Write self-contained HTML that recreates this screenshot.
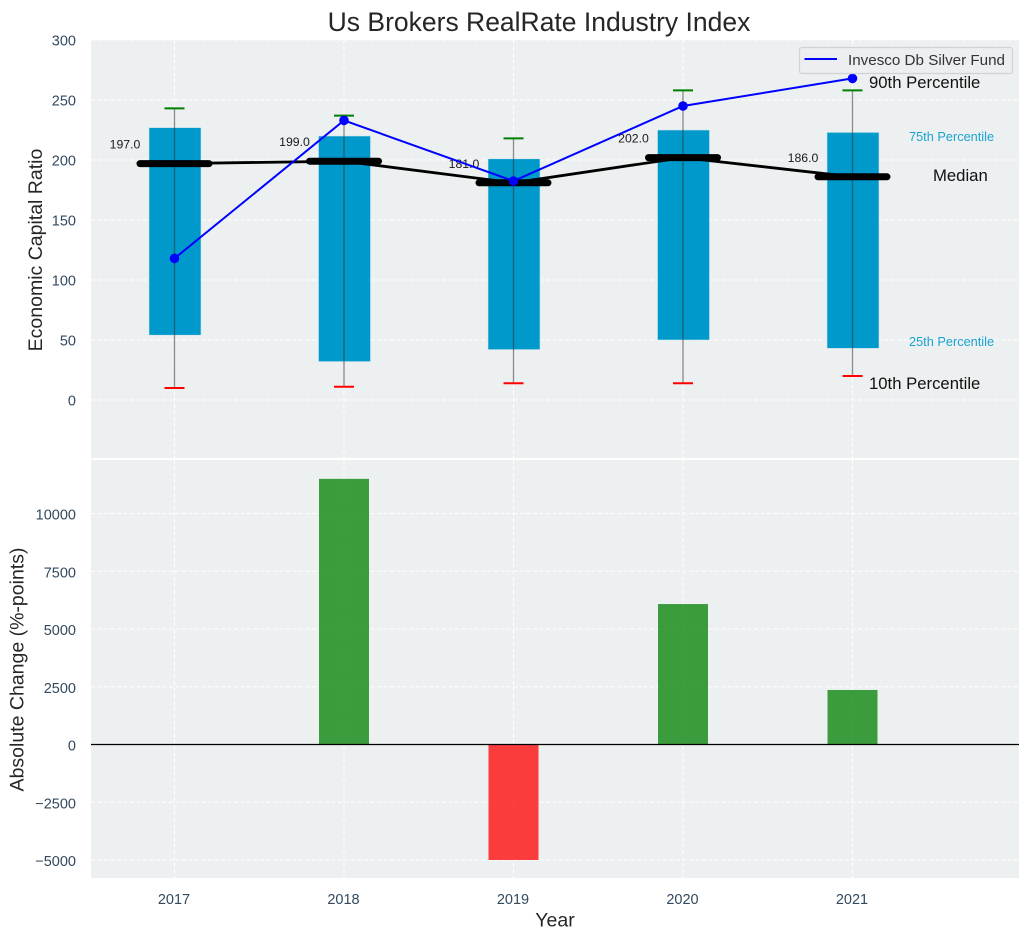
<!DOCTYPE html>
<html lang="en">
<head>
<meta charset="utf-8">
<title>Us Brokers RealRate Industry Index</title>
<style>
html,body{margin:0;padding:0;background:#fff;width:1029px;height:940px;overflow:hidden}
svg{display:block;font-family:"Liberation Sans",sans-serif}
</style>
</head>
<body>
<svg id="chart" xmlns="http://www.w3.org/2000/svg" width="1029" height="940" viewBox="0 0 1029 940"></svg>
<script>
const years = [2017, 2018, 2019, 2020, 2021];
const p10 = [10, 11, 14, 14, 20];
const p25 = [54, 32, 42, 50, 43];
const medians = [197, 199, 181, 202, 186];
const p75 = [227, 220, 201, 225, 223];
const p90 = [243, 237, 218, 258, 258];
const fundValues = [118, 233, 182.5, 245, 268];
const absChange = [0, 11500, -5000, 6080, 2360];
const upperTicks = [0, 50, 100, 150, 200, 250, 300];
const lowerTicks = [-5000, -2500, 0, 2500, 5000, 7500, 10000];

const svg = document.getElementById('chart');
const NS = 'http://www.w3.org/2000/svg';
const L = 91, R = 1019, TT = 40, TB = 458, BT = 460, BB = 878;
const xOf = v => 174.5 + (v - 2017) * 169.5;
const yUp = v => 400 - v * 1.2;
const yLow = v => 744.5 - v * 0.0231;

function mk(tag, attrs, parent, txt) {
  const el = document.createElementNS(NS, tag);
  for (const k in attrs) el.setAttribute(k, attrs[k]);
  if (txt !== undefined) el.textContent = txt;
  (parent || svg).appendChild(el);
  return el;
}
function group(name) {
  const g = mk('g', {});
  
  
  return g;
}
const TICK = '#34495e';

/* panels */
const upperBg = mk('rect', {x: L, y: TT, width: R - L, height: TB - TT, fill: '#ecf0f1'});


const lowerBg = mk('rect', {x: L, y: BT, width: R - L, height: BB - BT, fill: '#ecf0f1'});



/* grids */
const gridG = group('grid-lines');
const gridStyle = {stroke: '#fff', 'stroke-width': 1, 'stroke-dasharray': '4 2.5', fill: 'none'};
years.forEach(y => {
  mk('line', {x1: xOf(y), x2: xOf(y), y1: TT, y2: TB, ...gridStyle}, gridG);
  mk('line', {x1: xOf(y), x2: xOf(y), y1: BT, y2: BB, ...gridStyle}, gridG);
});
upperTicks.forEach(t => mk('line', {x1: L, x2: R, y1: yUp(t), y2: yUp(t), ...gridStyle}, gridG));
lowerTicks.forEach(t => mk('line', {x1: L, x2: R, y1: yLow(t), y2: yLow(t), ...gridStyle}, gridG));

/* y tick labels */
const upperTickG = group('upper-y-ticks');
upperTicks.forEach(t => {
  mk('text', {x: 76, y: yUp(t) + 5.5, 'text-anchor': 'end', 'font-size': 14.5, fill: TICK}, upperTickG, String(t));
});
const lowerTickG = group('lower-y-ticks');
lowerTicks.forEach(t => {
  mk('text', {x: 76, y: yLow(t) + 6, 'text-anchor': 'end', 'font-size': 14.5, fill: TICK}, lowerTickG, String(t).replace('-', '\u2212'));
});
const xTickG = group('x-ticks');
years.forEach(y => {
  mk('text', {x: xOf(y) - 0.5, y: 904, 'text-anchor': 'middle', 'font-size': 14.5, fill: TICK}, xTickG, String(y));
});

/* boxes */
const boxG = group('percentile-boxes');
years.forEach((y, i) => {
  const b = mk('rect', {x: xOf(y) - 25.5, y: yUp(p75[i]), width: 52, height: yUp(p25[i]) - yUp(p75[i]), fill: '#0099cc', stroke: '#cfe6ee', 'stroke-width': 0.6}, boxG);
  
  
});

/* whiskers */
const whiskG = group('whiskers');
years.forEach((y, i) => {
  const w = mk('line', {x1: xOf(y), x2: xOf(y), y1: yUp(p90[i]), y2: yUp(p10[i]), stroke: '#333', 'stroke-opacity': 0.55, 'stroke-width': 1.3}, whiskG);
  
  
  const hi = mk('line', {x1: xOf(y) - 10, x2: xOf(y) + 10, y1: yUp(p90[i]), y2: yUp(p90[i]), stroke: '#008000', 'stroke-width': 2}, whiskG);
  
  
  const lo = mk('line', {x1: xOf(y) - 10, x2: xOf(y) + 10, y1: yUp(p10[i]), y2: yUp(p10[i]), stroke: '#ff0000', 'stroke-width': 2}, whiskG);
  
  
});

/* median line + bars */
const medG = group('median-series');
const medLine = mk('polyline', {points: years.map((y, i) => xOf(y) + ',' + yUp(medians[i])).join(' '), fill: 'none', stroke: '#000', 'stroke-width': 2.8}, medG);


years.forEach((y, i) => {
  const m = mk('line', {x1: xOf(y) - 34.5, x2: xOf(y) + 34.5, y1: yUp(medians[i]), y2: yUp(medians[i]), stroke: '#000', 'stroke-width': 7, 'stroke-linecap': 'round'}, medG);
  
  
  const t = mk('text', {x: xOf(y) - 49.5, y: yUp(medians[i]) - 15, 'text-anchor': 'middle', 'font-size': 12.3, fill: '#1a1a1a'}, medG, medians[i].toFixed(1));
  
  
});

/* fund line */
const fundG = group('invesco-series');
const fundLine = mk('polyline', {points: years.map((y, i) => xOf(y) + ',' + yUp(fundValues[i])).join(' '), fill: 'none', stroke: '#0000ff', 'stroke-width': 2}, fundG);


years.forEach((y, i) => {
  const p = mk('circle', {cx: xOf(y), cy: yUp(fundValues[i]), r: 4.8, fill: '#0000ff'}, fundG);
  
  
});

/* lower bars */
const barG = group('absolute-change-bars');
years.forEach((y, i) => {
  const v = absChange[i];
  const top = Math.min(yLow(v), yLow(0));
  const b = mk('rect', {x: xOf(y) - 25, y: top, width: 50, height: Math.abs(yLow(v) - yLow(0)), fill: v >= 0 ? '#008000' : '#ff0000', 'fill-opacity': 0.75}, barG);
  
  
});
const zeroLine = mk('line', {x1: L, x2: R, y1: yLow(0), y2: yLow(0), stroke: '#000', 'stroke-width': 1.3});


</script>

<script>
/* static labels */
(function () {
  const s = document.getElementById('chart');
  s.insertAdjacentHTML('beforeend', `
  <text x="539" y="31" text-anchor="middle" font-size="26.5" fill="#262626">Us Brokers RealRate Industry Index</text>
  <text transform="translate(42,250) rotate(-90)" text-anchor="middle" font-size="19.5" fill="#262626">Economic Capital Ratio</text>
  <text transform="translate(23.5,669.5) rotate(-90)" text-anchor="middle" font-size="19.5" fill="#262626">Absolute Change (%-points)</text>
  <text x="555" y="926.5" text-anchor="middle" font-size="19.5" fill="#262626">Year</text>
  <text x="869" y="88" font-size="16.7" fill="#111">90th Percentile</text>
  <text x="909" y="141" font-size="12.75" fill="#1ba3d1">75th Percentile</text>
  <text x="933" y="181" font-size="16.7" fill="#111">Median</text>
  <text x="909" y="346" font-size="12.75" fill="#1ba3d1">25th Percentile</text>
  <text x="869" y="389" font-size="16.7" fill="#111">10th Percentile</text>
  <g>
    <rect x="799.5" y="47.5" width="213" height="26" rx="2.5" fill="#ecedf2" fill-opacity="0.9" stroke="#d0d3d6" stroke-width="1.2"/>
    <line x1="804.5" y1="59" x2="837" y2="59" stroke="#0000ff" stroke-width="2"/>
    <text x="848" y="65" font-size="15.2" fill="#333">Invesco Db Silver Fund</text>
  </g>`);
})();
</script>
</body>
</html>
